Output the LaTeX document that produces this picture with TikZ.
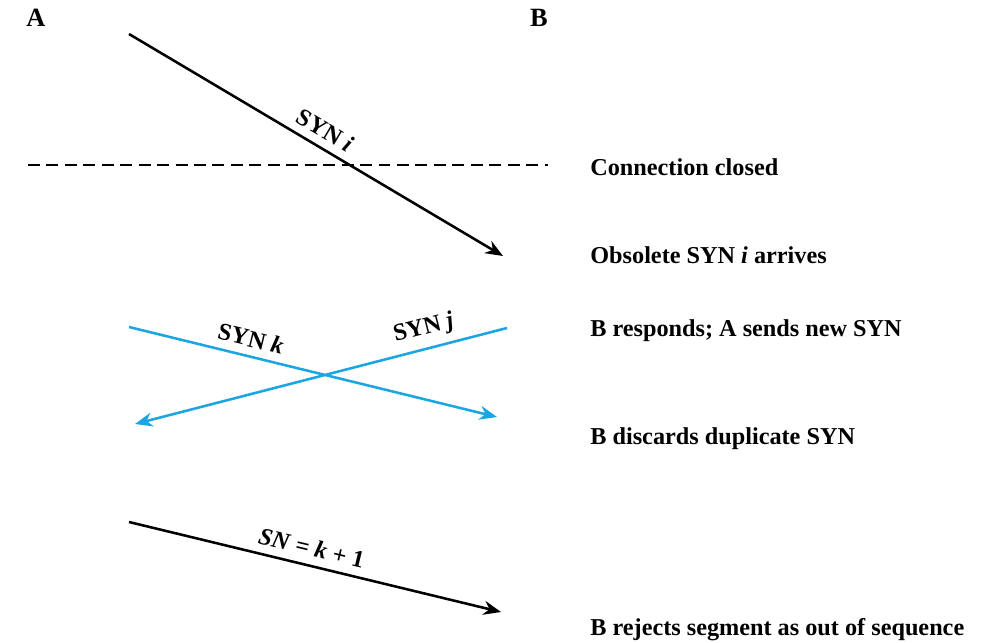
\documentclass[tikz,border=0pt]{standalone}
\usepackage{fontspec}
\setmainfont{Liberation Serif}
\usepackage{xcolor}
\usepackage{tikz}
\usetikzlibrary{arrows.meta}
\definecolor{synblue}{RGB}{27,166,226}
\tikzset{
  msg/.style={line width=1.45pt,-{Stealth[length=10pt,width=8pt]}},
  dupmsg/.style={msg,synblue},
  closed/.style={line width=1.45pt,dash pattern=on 6.8pt off 3.7pt},
  lbl/.style={sloped,above,inner sep=4.5pt,text=black,font=\fontsize{13.8}{16}\selectfont\bfseries},
  note/.style={anchor=base west,inner sep=0pt,font=\fontsize{13.8}{16}\selectfont\bfseries},
  host/.style={anchor=base,inner sep=0pt,font=\fontsize{15}{17}\selectfont\bfseries},
}
\begin{document}
\begin{tikzpicture}[x=0.02cm,y=-0.02cm]
  \useasboundingbox (0,0) rectangle (992,643);
  \node[host] (hA) at (36,26) {A};
  \node[host] (hB) at (539,26) {B};
  % old SYN, still in the net
  \coordinate (s1) at (129,34);  \coordinate (e1) at (503,256);
  \draw[msg] (s1) -- node[lbl,pos=0.5]{SYN \textit{i}} (e1);
  \coordinate (c1) at (28,165);  \coordinate (c2) at (548,165);
  \draw[closed] (c1) -- (c2);
  % crossing SYNs
  \coordinate (s2) at (129,327); \coordinate (e2) at (497,417);
  \draw[dupmsg] (s2) -- node[lbl,pos=0.32]{SYN \textit{k}} (e2);
  \coordinate (s3) at (507,328); \coordinate (e3) at (135,424);
  \draw[dupmsg] (s3) -- node[lbl,pos=0.21]{SYN \textit{j}} (e3);
  % late segment
  \coordinate (s4) at (129,522); \coordinate (e4) at (501,612);
  \draw[msg] (s4) -- node[lbl,pos=0.48]{\textit{SN} = \textit{k} + 1} (e4);
  \node[note] (n1) at (590,175) {Connection closed};
  \node[note] (n2) at (590,263) {Obsolete SYN \textit{i} arrives};
  \node[note] (n3) at (590,336) {B responds; A sends new SYN};
  \node[note] (n4) at (590,444) {B discards duplicate SYN};
  \node[note] (n5) at (590,635) {B rejects segment as out of sequence};
\end{tikzpicture}
\end{document}
